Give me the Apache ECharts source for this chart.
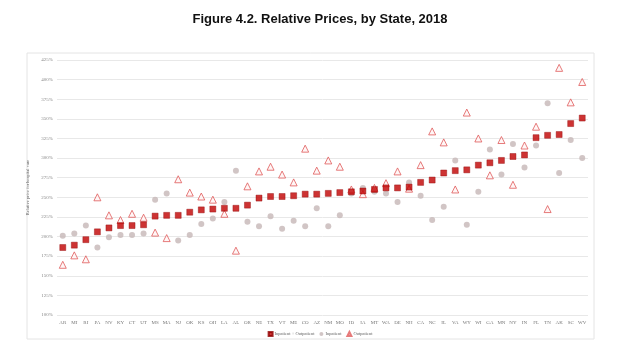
<!DOCTYPE html>
<html><head><meta charset="utf-8">
<script src="https://cdn.jsdelivr.net/npm/echarts@6/dist/echarts.min.js"></script>
<style>html,body{margin:0;padding:0;background:#fff}#c{width:640px;height:351px}</style>
</head><body><div id="c"></div>
<script>
const states = ["AR","MI","RI","PA","NV","KY","CT","UT","MS","MA","NJ","OK","KS","OH","LA","AL","OR","NE","TX","VT","ME","CO","AZ","NM","MO","ID","IA","MT","WA","DE","NH","CA","NC","IL","VA","WY","WI","GA","MN","NY","IN","FL","TN","AK","SC","WV"];
const combined = [186,189,196,206,211,214,214,215,226,227,227,231,234,235,236,236,240,249,251,251,252,254,254,255,256,257,258,260,262,262,263,269,272,281,284,285,291,294,297,302,304,326,329,330,344,351];
const inpatient = [201,204,214,186,199,202,202,204,247,255,195,202,216,223,244,284,219,213,226,210,220,213,236,213,227,255,262,257,255,244,269,252,221,238,297,215,257,311,279,318,288,316,370,281,323,300];
const outpatient = [164,176,171,250,227,221,229,224,205,198,273,256,251,247,229,182,264,283,289,279,269,312,284,297,289,260,254,262,268,283,261,291,334,320,260,358,325,278,323,266,316,340,235,415,371,397];
const seriesNames = ["Inpatient + Outpatient","Inpatient","Outpatient"];

const chart = echarts.init(document.getElementById('c'));
const serif = "Liberation Serif";
chart.setOption({
  animation: false,
  title: {
    text: "Figure 4.2. Relative Prices, by State, 2018",
    left: 'center', top: 8,
    textStyle: {fontFamily: "Liberation Sans", fontWeight: 'bold', fontSize: 13, color: '#111'}
  },
  graphic: [{
    type: 'rect', shape: {x: 27, y: 53, width: 567, height: 286},
    style: {fill: 'none', stroke: '#e4e4e4', lineWidth: 1}, silent: true
  }],
  legend: {
    top: 326, left: 'center',
    itemWidth: 4, itemHeight: 4, itemGap: 5,
    textStyle: {fontFamily: serif, fontSize: 4.5, color: '#666', padding: [0,0,0,-3]},
    data: [
      {name: seriesNames[0], icon: 'rect'},
      {name: seriesNames[1], icon: 'circle'},
      {name: seriesNames[2], icon: 'triangle'}
    ]
  },
  grid: {left: 57, right: 52, top: 60, bottom: 36},
  xAxis: {
    type: 'category', data: states,
    axisLine: {show: false}, axisTick: {show: false},
    axisLabel: {interval: 0, fontFamily: serif, fontSize: 5, color: '#777', margin: 5}
  },
  yAxis: {
    type: 'value', min: 100, max: 425, interval: 25,
    name: 'Relative price for hospital care', nameLocation: 'middle', nameGap: 22,
    nameTextStyle: {fontFamily: serif, fontSize: 4.5, color: '#666'},
    axisLabel: {formatter: '{value}%', fontFamily: serif, fontSize: 5, color: '#888', margin: 4},
    splitLine: {lineStyle: {color: '#e8e8e8', width: 1}},
    axisLine: {show: false}, axisTick: {show: false}
  },
  series: [
    {name: seriesNames[1], type: 'scatter', data: inpatient, symbol: 'circle', symbolSize: 6,
     itemStyle: {color: '#C5B7B7'}},
    {name: seriesNames[2], type: 'scatter', data: outpatient, symbol: 'triangle', symbolSize: 7,
     itemStyle: {color: '#fff4f4', borderColor: '#E05A5A', borderWidth: 1}},
    {name: seriesNames[0], type: 'scatter', data: combined, symbol: 'rect', symbolSize: 6,
     itemStyle: {color: '#C00000', borderColor: '#900000', borderWidth: 0.5}}
  ]
});
</script></body></html>
